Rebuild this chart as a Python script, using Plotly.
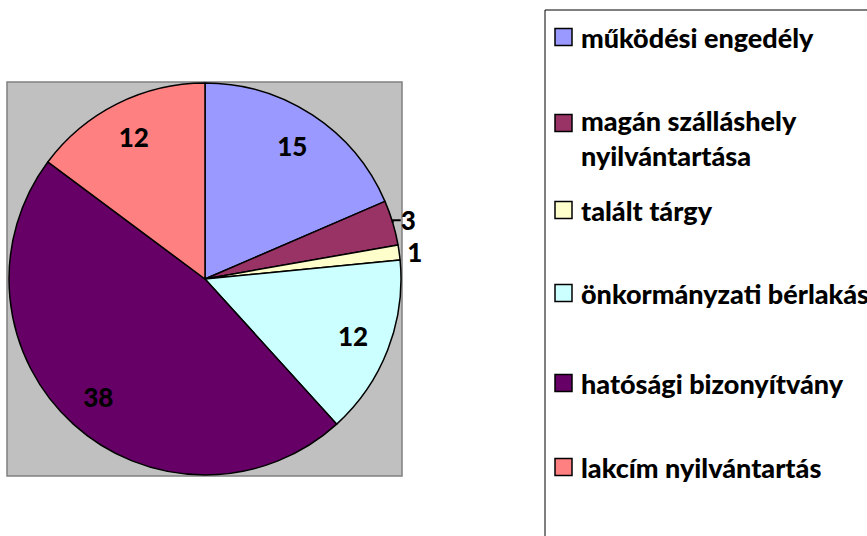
import plotly.graph_objects as go

labels = ["működési engedély", "magán szálláshely nyilvántartása", "talált tárgy",
          "önkormányzati bérlakás", "hatósági bizonyítvány", "lakcím nyilvántartás"]
legend_text = ["működési engedély", "magán szálláshely<br>nyilvántartása", "talált tárgy",
               "önkormányzati bérlakás", "hatósági bizonyítvány", "lakcím nyilvántartás"]
values = [15, 3, 1, 12, 38, 12]
colors = ["#9999FF", "#993366", "#FFFFCC", "#CCFFFF", "#660066", "#FF8080"]
text_pos = ["inside", "outside", "outside", "inside", "inside", "inside"]

W, H = 867, 536
FONT = "Lato"

def px(x):
    return x / W

def py(y):
    return 1 - y / H

dom = dict(x=[px(8), px(402)], y=[py(475), py(83)])

fig = go.Figure()
# visible pie (no text)
fig.add_trace(go.Pie(
    labels=labels, values=values, sort=False, direction="clockwise", rotation=0,
    marker=dict(colors=colors, line=dict(color="black", width=1.5)),
    textinfo="none", domain=dom, showlegend=False, hoverinfo="label+value",
))
# transparent ring carrying the value labels further out, as in the original
fig.add_trace(go.Pie(
    labels=labels, values=values, sort=False, direction="clockwise", rotation=0,
    hole=0.62,
    marker=dict(colors=["rgba(0,0,0,0)"] * len(values), line=dict(width=0)),
    texttemplate="%{value}", textposition=text_pos,
    insidetextorientation="horizontal",
    textfont=dict(family=FONT, size=26, color="black", weight=900),
    domain=dom, showlegend=False, hoverinfo="skip",
))

shapes = [
    dict(type="rect", xref="paper", yref="paper", x0=px(7), x1=px(402), y0=py(476), y1=py(82),
         fillcolor="#C0C0C0", line=dict(color="#808080", width=1.5), layer="below"),
    dict(type="rect", xref="paper", yref="paper", x0=px(545), x1=px(900), y0=py(560), y1=py(10),
         fillcolor="rgba(0,0,0,0)", line=dict(color="black", width=1), layer="above"),
]
annotations = []
item_y = [37, 123, 210, 293, 383, 467]
for i, (t, c) in enumerate(zip(legend_text, colors)):
    yc = item_y[i]
    shapes.append(dict(type="rect", xref="paper", yref="paper", x0=px(555), x1=px(572),
                       y0=py(yc + 8.5), y1=py(yc - 8.5), fillcolor=c,
                       line=dict(color="black", width=1.5)))
    annotations.append(dict(text=t, xref="paper", yref="paper", x=px(579), y=py(yc),
                            xanchor="left", yanchor="middle" if i != 1 else "top",
                            align="left", showarrow=False,
                            font=dict(family=FONT, size=27, color="black", weight=900)))
annotations[1]["y"] = py(item_y[1] - 21)

fig.update_layout(
    width=W, height=H, margin=dict(l=0, r=0, t=0, b=0),
    paper_bgcolor="white", plot_bgcolor="white",
    shapes=shapes, annotations=annotations,
)
fig.write_html("out.html", config={"displayModeBar": False},
               post_script="document.body.style.margin='0';document.body.style.overflow='hidden';")
